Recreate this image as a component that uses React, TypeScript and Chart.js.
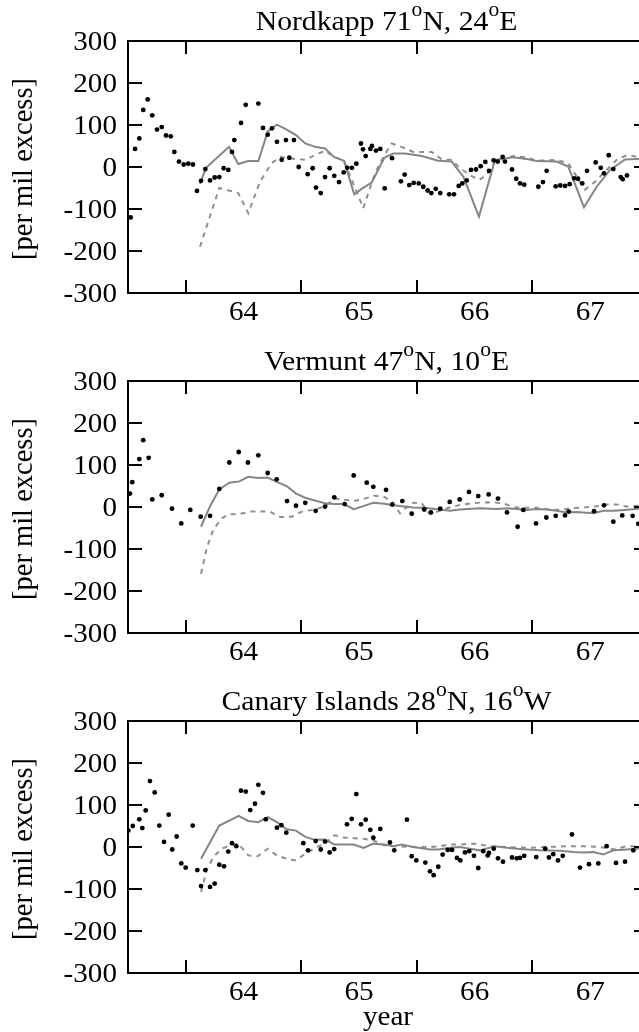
import React, { useEffect, useRef } from 'react';
import { Chart, registerables } from 'chart.js';

Chart.register(...registerables);

// ---------- axes ----------
const X_MIN = 63.0;
const X_MAX = 67.5;
const xTickLabels = [64, 65, 66, 67];
const xTickMarks = [63.5, 64.5, 65.5, 66.5];
const yTickValues = [-300, -200, -100, 0, 100, 200, 300];

// ---------- Nordkapp ----------
const nordDotX = [63.023, 63.061, 63.098, 63.132, 63.170, 63.210, 63.251, 63.292, 63.329, 63.370, 63.401, 63.441, 63.482, 63.522, 63.562, 63.597, 63.632, 63.669, 63.710, 63.750, 63.790, 63.828, 63.868, 63.900, 63.920, 63.978, 64.019, 64.128, 64.168, 64.209, 64.246, 64.289, 64.330, 64.367, 64.396, 64.436, 64.477, 64.555, 64.598, 64.627, 64.668, 64.705, 64.745, 64.785, 64.826, 64.867, 64.898, 64.938, 64.976, 65.016, 65.034, 65.057, 65.097, 65.111, 65.146, 65.183, 65.221, 65.285, 65.362, 65.394, 65.434, 65.472, 65.516, 65.555, 65.593, 65.625, 65.663, 65.702, 65.780, 65.821, 65.862, 65.893, 65.931, 65.968, 66.011, 66.052, 66.092, 66.124, 66.164, 66.199, 66.242, 66.262, 66.323, 66.360, 66.392, 66.429, 66.551, 66.591, 66.623, 66.701, 66.741, 66.782, 66.822, 66.862, 66.894, 66.931, 66.972, 67.047, 67.091, 67.119, 67.160, 67.200, 67.264, 67.281, 67.318];
const nordDotY = [-120, 43, 68, 136, 161, 123, 89, 95, 75, 73, 36, 13, 6, 8, 6, -57, -33, -5, -32, -25, -24, -3, -7, 36, 64, 105, 148, 151, 93, 77, 92, 60, 17, 64, 22, 64, 0, -17, -3, -49, -62, -24, -3, -21, -36, -13, -2, -2, 8, 56, 42, 26, 43, 50, 39, 43, -51, 21, -34, -18, -43, -38, -39, -47, -56, -62, -52, -62, -65, -65, -45, -39, -32, -7, -6, 2, 12, -9, 16, 13, 24, 13, -6, -28, -39, -42, -47, -36, -9, -46, -44, -45, -41, -27, -28, -39, -9, 11, -2, -15, 28, -5, -24, -29, -20];
const nordSolidX = [63.623, 63.675, 63.874, 63.954, 64.041, 64.128, 64.209, 64.289, 64.373, 64.454, 64.534, 64.618, 64.705, 64.783, 64.869, 64.958, 65.028, 65.109, 65.218, 65.296, 65.397, 65.542, 65.685, 65.801, 65.902, 66.037, 66.176, 66.334, 66.450, 66.537, 66.710, 66.810, 66.946, 67.056, 67.171, 67.301, 67.500];
const nordSolidY = [-40, -2, 48, 7, 14, 14, 84, 101, 89, 76, 56, 48, 44, 24, 15, -65, -51, -37, 22, 32, 32, 26, 15, 13, -23, -118, 17, 23, 19, 14, 13, 1, -96, -47, -7, 18, 20];
const nordDashX = [63.623, 63.790, 63.954, 64.041, 64.142, 64.243, 64.318, 64.417, 64.532, 64.705, 64.783, 64.869, 65.036, 65.137, 65.218, 65.282, 65.368, 65.469, 65.628, 65.715, 65.801, 65.873, 65.959, 66.037, 66.104, 66.176, 66.334, 66.450, 66.537, 66.710, 66.810, 66.883, 66.955, 67.041, 67.113, 67.229, 67.316, 67.500];
const nordDashY = [-190, -50, -62, -110, -35, 9, 24, 20, 17, 39, 24, 15, -98, -15, 28, 56, 48, 36, 36, 18, 17, -3, -19, -31, -19, 13, 26, 23, 15, 17, 9, -23, -54, -35, -15, 17, 28, 21];

// ---------- Vermunt ----------
const verDotX = [63.017, 63.037, 63.098, 63.132, 63.179, 63.210, 63.292, 63.381, 63.461, 63.539, 63.629, 63.710, 63.790, 63.877, 63.958, 64.038, 64.128, 64.209, 64.287, 64.376, 64.454, 64.534, 64.624, 64.705, 64.785, 64.875, 64.953, 65.066, 65.123, 65.233, 65.287, 65.374, 65.455, 65.564, 65.622, 65.702, 65.784, 65.870, 65.951, 66.031, 66.121, 66.202, 66.280, 66.372, 66.421, 66.531, 66.620, 66.701, 66.782, 66.814, 67.033, 67.119, 67.200, 67.277, 67.367, 67.416];
const verDotY = [32, 59, 114, 159, 117, 18, 28, -4, -39, -7, -23, -21, 43, 106, 131, 106, 123, 81, 66, 14, 3, 10, -9, 1, 23, 7, 75, 58, 48, 41, 6, 14, -16, -6, -13, -4, 12, 18, 36, 26, 30, 20, -13, -47, -7, -39, -25, -21, -20, -11, -10, 4, -35, -20, -21, -40];
const verSolidX = [63.632, 63.710, 63.790, 63.877, 63.963, 64.041, 64.128, 64.209, 64.287, 64.373, 64.454, 64.534, 64.624, 64.705, 64.785, 64.867, 64.953, 65.036, 65.123, 65.218, 65.282, 65.368, 65.469, 65.555, 65.642, 65.786, 65.873, 66.046, 66.191, 66.277, 66.364, 66.450, 66.537, 66.623, 66.710, 66.796, 66.883, 67.027, 67.113, 67.200, 67.301, 67.500];
const verSolidY = [-47, 2, 42, 58, 61, 72, 69, 70, 60, 50, 32, 22, 15, 9, 7, 7, -5, 2, 10, 8, 5, 2, -1, -2, -4, -9, -6, -3, -5, -3, -5, -7, -5, -6, -9, -13, -12, -15, -9, -9, -7, -2];
const verDashX = [63.632, 63.681, 63.738, 63.811, 63.877, 63.963, 64.056, 64.157, 64.229, 64.318, 64.417, 64.503, 64.590, 64.705, 64.785, 64.878, 64.964, 65.039, 65.131, 65.218, 65.282, 65.354, 65.455, 65.542, 65.613, 65.715, 65.786, 65.873, 65.974, 66.075, 66.176, 66.262, 66.349, 66.450, 66.537, 66.652, 66.753, 66.825, 66.941, 67.056, 67.142, 67.229, 67.316, 67.500];
const verDashY = [-159, -98, -54, -27, -17, -17, -11, -11, -11, -24, -23, -11, -7, 1, 20, 17, 15, 19, 27, 24, 13, -15, 10, 9, -17, -7, -1, 5, 9, 11, 11, 7, -1, -2, -2, -6, -7, -3, -1, 2, 6, 6, 1, 5];

// ---------- Canary Islands ----------
const canDotX = [63.003, 63.041, 63.098, 63.124, 63.153, 63.190, 63.231, 63.271, 63.312, 63.352, 63.383, 63.421, 63.461, 63.499, 63.560, 63.600, 63.632, 63.669, 63.710, 63.750, 63.790, 63.831, 63.868, 63.900, 63.937, 63.978, 64.019, 64.058, 64.099, 64.128, 64.168, 64.192, 64.289, 64.327, 64.370, 64.517, 64.558, 64.624, 64.668, 64.705, 64.745, 64.785, 64.895, 64.936, 64.976, 65.016, 65.057, 65.097, 65.123, 65.183, 65.267, 65.304, 65.414, 65.455, 65.495, 65.573, 65.613, 65.645, 65.685, 65.723, 65.767, 65.804, 65.847, 65.876, 65.916, 65.953, 65.994, 66.031, 66.075, 66.113, 66.124, 66.165, 66.202, 66.245, 66.323, 66.364, 66.392, 66.429, 66.533, 66.611, 66.643, 66.680, 66.721, 66.762, 66.842, 66.911, 66.989, 67.070, 67.142, 67.223, 67.301, 67.373];
const canDotY = [39, 50, 66, 45, 87, 157, 130, 51, 12, 77, -6, 25, -39, -49, 51, -55, -93, -55, -95, -87, -42, -46, -11, 9, 2, 134, 132, 88, 103, 148, 129, 66, 46, 52, 34, 9, -8, 14, -6, 13, -13, -5, 54, 67, 126, 54, 65, 41, 22, 43, 11, -8, 65, -22, -32, -37, -58, -67, -47, -18, -7, -7, -26, -32, -13, -10, -21, -50, -10, -20, -14, -4, -27, -35, -25, -27, -26, -21, -24, -4, -25, -17, -32, -21, 30, -49, -41, -39, 2, -38, -35, -8];
const canSolidX = [63.632, 63.790, 63.877, 63.958, 64.041, 64.128, 64.209, 64.289, 64.373, 64.454, 64.534, 64.618, 64.705, 64.785, 64.867, 64.953, 65.040, 65.123, 65.218, 65.296, 65.368, 65.469, 65.613, 65.685, 65.786, 65.873, 65.959, 66.046, 66.176, 66.277, 66.364, 66.450, 66.565, 66.738, 66.853, 66.941, 67.027, 67.113, 67.200, 67.316, 67.500];
const canSolidY = [-28, 51, 63, 74, 62, 59, 71, 59, 42, 39, 24, 17, 18, 6, 6, 6, -2, 8, 6, 2, 6, 0, -6, -6, -2, 0, -4, -8, 2, -2, -4, -6, -8, -9, -12, -13, -12, -18, -8, -6, -2];
const canDashX = [63.632, 63.681, 63.738, 63.811, 63.883, 63.954, 64.041, 64.122, 64.209, 64.287, 64.373, 64.454, 64.534, 64.618, 64.705, 64.785, 64.878, 64.964, 65.051, 65.123, 65.215, 65.302, 65.440, 65.613, 65.700, 65.786, 65.873, 65.988, 66.133, 66.277, 66.450, 66.609, 66.839, 66.941, 67.084, 67.200, 67.316, 67.500];
const canDashY = [-107, -55, -24, -4, 4, 8, -20, -22, -4, -20, -28, -32, -16, -2, 8, 28, 22, 21, 19, 16, 4, 2, 0, 0, 2, 6, 6, 8, 2, 0, -2, 0, 2, 2, 0, -6, 2, 0];

// ---------- titles ----------
const nordTitle = [['Nordkapp 71', false], ['o', true], ['N, 24', false], ['o', true], ['E', false]];
const verTitle = [['Vermunt 47', false], ['o', true], ['N, 10', false], ['o', true], ['E', false]];
const canTitle = [['Canary Islands 28', false], ['o', true], ['N, 16', false], ['o', true], ['W', false]];
const yTitle = '[per mil excess]';
const xTitle = 'year';

const FONT = "'Liberation Serif', 'Times New Roman', serif";
const TICK_FS = 26.5;
const TICK_SX = 1.1;
const TITLE_FS = 27.5;
const TITLE_SX = 1.08;
const SUP_FS = 20;
const YTITLE_FS = 28.5;

const toPts = (xs: number[], ys: number[]) => xs.map((x, i) => ({ x, y: ys[i] }));

function stretchedText(ctx: any, text: string, x: number, y: number, align: string, sx: number) {
  ctx.save();
  ctx.translate(x, y);
  ctx.scale(sx, 1);
  ctx.textAlign = align;
  ctx.fillText(text, 0, 0);
  ctx.restore();
}

const framePlugin = {
  id: 'frame',
  afterDraw(chart: any, _args: any, opts: any) {
    const { ctx, chartArea } = chart;
    const { left, right, top, bottom } = chartArea;
    const xs = chart.scales.x;
    const ys = chart.scales.y;
    ctx.save();
    ctx.strokeStyle = '#000';
    ctx.lineWidth = 2;
    ctx.strokeRect(left, top, right - left, bottom - top);
    ctx.beginPath();
    for (const v of xTickMarks) {
      const px = Math.round(xs.getPixelForValue(v));
      ctx.moveTo(px, top);
      ctx.lineTo(px, top + 13);
      ctx.moveTo(px, bottom);
      ctx.lineTo(px, bottom - 13);
    }
    for (const v of yTickValues) {
      const py = Math.round(ys.getPixelForValue(v));
      ctx.moveTo(left, py);
      ctx.lineTo(left + 14, py);
      ctx.moveTo(right, py);
      ctx.lineTo(right - 14, py);
    }
    ctx.stroke();

    ctx.fillStyle = '#000';
    ctx.textBaseline = 'alphabetic';

    // tick labels
    ctx.font = `${TICK_FS}px ${FONT}`;
    for (const v of yTickValues) {
      const py = ys.getPixelForValue(v);
      stretchedText(ctx, String(v), left - 11, py + 9, 'right', TICK_SX);
    }
    for (const v of xTickLabels) {
      const px = xs.getPixelForValue(v);
      stretchedText(ctx, String(v), px, bottom + 26.5, 'center', TICK_SX);
    }

    // title with superscripts
    const segs: [string, boolean][] = opts.title || [];
    const widths = segs.map(([t, sup]) => {
      ctx.font = `${sup ? SUP_FS : TITLE_FS}px ${FONT}`;
      return ctx.measureText(t).width * TITLE_SX;
    });
    const total = widths.reduce((a, b) => a + b, 0);
    let cx = (left + right) / 2 - 1.5 - total / 2;
    const base = top - 11.5;
    segs.forEach(([t, sup], i) => {
      ctx.font = `${sup ? SUP_FS : TITLE_FS}px ${FONT}`;
      stretchedText(ctx, t, cx, sup ? base - 14 : base, 'left', TITLE_SX);
      cx += widths[i];
    });

    // y title
    ctx.save();
    ctx.translate(25, (top + bottom) / 2 + 2);
    ctx.rotate(-Math.PI / 2);
    ctx.textAlign = 'center';
    ctx.textBaseline = 'middle';
    ctx.font = `${YTITLE_FS}px ${FONT}`;
    ctx.fillText(yTitle, 0, 0);
    ctx.restore();

    if (opts.showXTitle) {
      ctx.font = `${TICK_FS}px ${FONT}`;
      stretchedText(ctx, xTitle, (left + right) / 2, bottom + 52, 'center', TICK_SX);
    }
    ctx.restore();
  },
};

type PanelProps = {
  top: number;
  height: number;
  title: any[];
  dotX: number[];
  dotY: number[];
  solidX: number[];
  solidY: number[];
  dashX: number[];
  dashY: number[];
  showXTitle: boolean;
};

function Panel(p: PanelProps) {
  const ref = useRef<HTMLCanvasElement | null>(null);
  useEffect(() => {
    if (!ref.current) return;
    const axisH = p.height - 293;
    const chart = new Chart(ref.current, {
      type: 'scatter',
      data: {
        datasets: [
          {
            label: 'obs',
            data: toPts(p.dotX, p.dotY),
            showLine: false,
            pointRadius: 2.4,
            pointBackgroundColor: '#000',
            pointBorderWidth: 0,
            borderColor: '#000',
          },
          {
            label: 'model',
            data: toPts(p.solidX, p.solidY),
            showLine: true,
            pointRadius: 0,
            borderColor: '#858585',
            borderWidth: 2,
            tension: 0,
          },
          {
            label: 'model2',
            data: toPts(p.dashX, p.dashY),
            showLine: true,
            pointRadius: 0,
            borderColor: '#8f8f8f',
            borderWidth: 2,
            borderDash: [5, 5],
            tension: 0,
          },
        ],
      },
      options: {
        animation: false,
        responsive: false,
        devicePixelRatio: 1,
        layout: { padding: { top: 41, left: 0, right: 2, bottom: 0 } },
        plugins: {
          legend: { display: false },
          tooltip: { enabled: false },
          frame: { title: p.title, showXTitle: p.showXTitle },
        } as any,
        scales: {
          x: {
            type: 'linear',
            min: X_MIN,
            max: X_MAX,
            grid: { display: false, drawTicks: false },
            border: { display: false },
            ticks: { display: false },
            afterBuildTicks: (s: any) => {
              s.ticks = xTickLabels.map((v) => ({ value: v }));
            },
            afterFit: (s: any) => {
              s.height = axisH;
            },
          },
          y: {
            type: 'linear',
            min: -300,
            max: 300,
            grid: { display: false, drawTicks: false },
            border: { display: false },
            ticks: { display: false },
            afterBuildTicks: (s: any) => {
              s.ticks = yTickValues.map((v) => ({ value: v }));
            },
            afterFit: (s: any) => {
              s.width = 128;
            },
          },
        },
      } as any,
      plugins: [framePlugin],
    });
    return () => chart.destroy();
  }, []);
  return (
    <canvas
      ref={ref}
      width={652}
      height={p.height}
      style={{ position: 'absolute', left: 0, top: p.top, width: 652, height: p.height }}
    />
  );
}

export default function App() {
  return (
    <div
      style={{
        position: 'absolute',
        left: 0,
        top: 0,
        width: 639,
        height: 1032,
        overflow: 'hidden',
        background: '#fff',
      }}
    >
      <Panel top={0} height={340} title={nordTitle} dotX={nordDotX} dotY={nordDotY} solidX={nordSolidX} solidY={nordSolidY} dashX={nordDashX} dashY={nordDashY} showXTitle={false} />
      <Panel top={340} height={340} title={verTitle} dotX={verDotX} dotY={verDotY} solidX={verSolidX} solidY={verSolidY} dashX={verDashX} dashY={verDashY} showXTitle={false} />
      <Panel top={680} height={352} title={canTitle} dotX={canDotX} dotY={canDotY} solidX={canSolidX} solidY={canSolidY} dashX={canDashX} dashY={canDashY} showXTitle={true} />
    </div>
  );
}
